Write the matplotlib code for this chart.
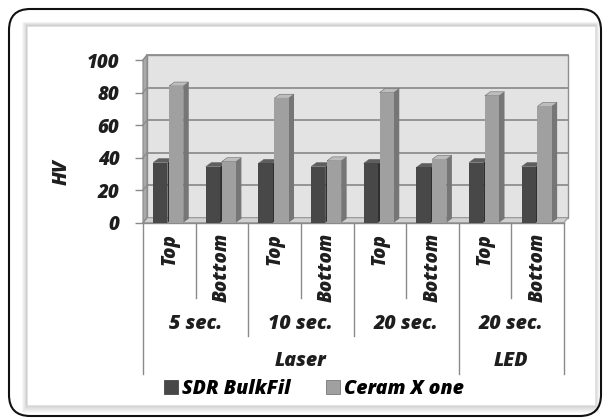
import matplotlib
matplotlib.use("Agg")
import matplotlib.pyplot as plt
from matplotlib.patches import Polygon, Rectangle, FancyBboxPatch, Patch
from matplotlib.lines import Line2D

# ---- data ----
positions = ["Top", "Bottom", "Top", "Bottom", "Top", "Bottom", "Top", "Bottom"]
times = ["5 sec.", "10 sec.", "20 sec.", "20 sec."]
sources = ["Laser", "LED"]
sdr_bulkfil = [37, 34.5, 36.5, 34.5, 36.5, 34, 37, 34.5]
ceram_x_one = [84, 37.5, 76.5, 38, 80, 39, 78, 71.5]
series_names = ["SDR BulkFil", "Ceram X one"]
yticks = [0, 20, 40, 60, 80, 100]

W, H = 606, 419
fig = plt.figure(figsize=(W / 100, H / 100), dpi=100)
fig.patch.set_facecolor("white")

def fx(px):
    return px / W

def fy(py):
    return 1 - py / H

# outer rounded border
outer = FancyBboxPatch((fx(9), fy(416)), fx(601) - fx(9), fy(9) - fy(416),
                       boxstyle="round,pad=0,rounding_size=0.035",
                       transform=fig.transFigure, facecolor="white",
                       edgecolor="#111111", linewidth=1.5, zorder=0,
                       mutation_aspect=W / H)
fig.patches.append(outer)
# soft shadow of inner panel
for i in range(8):
    g = 8 - i
    fig.patches.append(Rectangle((fx(27 - g * 0.6), fy(405 + g)), fx(568 + 1.2 * g * 0.6 + g * 0.4), (405 - 26 + 1.5 * g) / H,
                                 transform=fig.transFigure, facecolor="black", alpha=0.025,
                                 edgecolor="none", zorder=0.5))
fig.patches.append(Rectangle((fx(27), fy(405)), fx(568), (405 - 26) / H,
                             transform=fig.transFigure, facecolor="white",
                             edgecolor="#e0e0e0", linewidth=0.5, zorder=0.6))

ax_l, ax_r, ax_t, ax_b = 143, 564, 60, 222.7
ax = fig.add_axes([fx(ax_l), fy(ax_b), fx(ax_r - ax_l), (ax_b - ax_t) / H])
ax.set_zorder(3)
ax.set_facecolor("none")
n = len(positions)
xmin, xmax = -0.5, n - 0.5
ax.set_xlim(xmin, xmax)
ax.set_ylim(0, 100)
for s in ax.spines.values():
    s.set_visible(False)

px_x = (ax_r - ax_l) / (xmax - xmin)
px_y = (ax_b - ax_t) / 100.0
wdx, wdy = 4 / px_x, 5 / px_y      # wall depth
bdx, bdy = 5.5 / px_x, 4 / px_y    # bar depth

wall_c = "#e3e3e3"
grid_c = "#8e8e8e"
# back wall
ax.add_patch(Rectangle((xmin + wdx, wdy), xmax - xmin, 100, facecolor=wall_c,
                       edgecolor=grid_c, linewidth=1.0, zorder=0, clip_on=False))
for t in yticks:
    ax.plot([xmin + wdx, xmax + wdx], [t + wdy, t + wdy], color=grid_c, lw=1.3,
            zorder=0.5, clip_on=False)
# left side wall
ax.add_patch(Polygon([(xmin, 0), (xmin, 100), (xmin + wdx, 100 + wdy), (xmin + wdx, wdy)],
                     closed=True, facecolor="#a9a9a9", edgecolor="#8a8a8a", lw=0.8,
                     zorder=0.6, clip_on=False))
# floor
ax.add_patch(Polygon([(xmin, 0), (xmax, 0), (xmax + wdx, wdy), (xmin + wdx, wdy)],
                     closed=True, facecolor="#d0d0d0", edgecolor="#9a9a9a", lw=0.8,
                     zorder=0.6, clip_on=False))
for t in yticks:
    ax.plot([xmin, xmin + wdx], [t, t + wdy], color=grid_c, lw=1.0, zorder=0.7, clip_on=False)

# bars
bw = 0.27
styles = [
    dict(front="#484848", side="#2f2f2f", top="#5e5e5e", off=-0.171),
    dict(front="#a0a0a0", side="#767676", top="#bdbdbd", off=0.13),
]
xs = list(range(n))
for k, (vals, st) in enumerate(zip([sdr_bulkfil, ceram_x_one], styles)):
    z = 2 + k * 2
    bars = ax.bar([x + st["off"] for x in xs], vals, width=bw, color=st["front"],
                  edgecolor="none", zorder=z + 0.5)
    for b in bars:
        x0, w, h = b.get_x(), b.get_width(), b.get_height()
        ax.add_patch(Polygon([(x0 + w, 0), (x0 + w + bdx, bdy), (x0 + w + bdx, h + bdy), (x0 + w, h)],
                             closed=True, facecolor=st["side"], edgecolor="none", zorder=z))
        ax.add_patch(Polygon([(x0, h), (x0 + w, h), (x0 + w + bdx, h + bdy), (x0 + bdx, h + bdy)],
                             closed=True, facecolor=st["top"], edgecolor="#6a6a6a", lw=0.4, zorder=z))

# y axis ticks / labels
font = "Open Sans"
wt = 800
ax.set_yticks(yticks)
ax.set_yticklabels([str(t) for t in yticks], fontsize=13.5, fontweight=wt,
                   fontstyle="italic", family=font, color="#1e1e1e")
ax.tick_params(axis="y", length=6, width=1.0, color="#8a8a8a", pad=11)
ax.set_xticks([])
ax.plot([xmin, xmax], [0, 0], color="#8a8a8a", lw=1.0, zorder=1, clip_on=False)

fig.text(fx(62), fy(172), "HV", rotation=90, ha="center", va="center", fontsize=14,
         fontweight=wt, fontstyle="italic", family=font, color="#1e1e1e", zorder=4)

# multilevel category labels
tr = ax.get_xaxis_transform()

def ay(py):
    return (ax_b - py) / (ax_b - ax_t)

line_c = "#8a8a8a"
for i in range(n + 1):
    xb = xmin + i
    if i in (0, 6, 8):
        end = 374
    elif i % 2 == 0:
        end = 336
    else:
        end = 298
    ax.add_line(Line2D([xb, xb], [0, ay(end)], transform=tr, color=line_c, lw=1.0, clip_on=False))

txt_kw = dict(fontweight=wt, fontstyle="italic", family=font, color="#1e1e1e")
for i, p in enumerate(positions):
    ax.text(i, ay(233), p, transform=tr, rotation=90, ha="center", va="top", fontsize=13.5, **txt_kw)
for g, t in enumerate(times):
    ax.text(2 * g + 0.5, ay(324), t, transform=tr, ha="center", va="center", fontsize=14, **txt_kw)
ax.text((xmin + 5.5) / 2, ay(361), sources[0], transform=tr, ha="center", va="center", fontsize=14, **txt_kw)
ax.text((5.5 + xmax) / 2, ay(361), sources[1], transform=tr, ha="center", va="center", fontsize=14, **txt_kw)

handles = [Patch(facecolor=styles[0]["front"], edgecolor="#333333", lw=0.5),
           Patch(facecolor=styles[1]["front"], edgecolor="#666666", lw=0.5)]
leg = fig.legend(handles, series_names, loc="center", bbox_to_anchor=(fx(314), fy(389)), ncol=2,
                 frameon=False, handlelength=0.75, handleheight=0.75, handletextpad=0.2,
                 columnspacing=1.8, borderaxespad=0,
                 prop=dict(family=font, weight=wt, style="italic", size=14))
leg.set_zorder(4)

fig.savefig("out.png", dpi=100, facecolor="white")
